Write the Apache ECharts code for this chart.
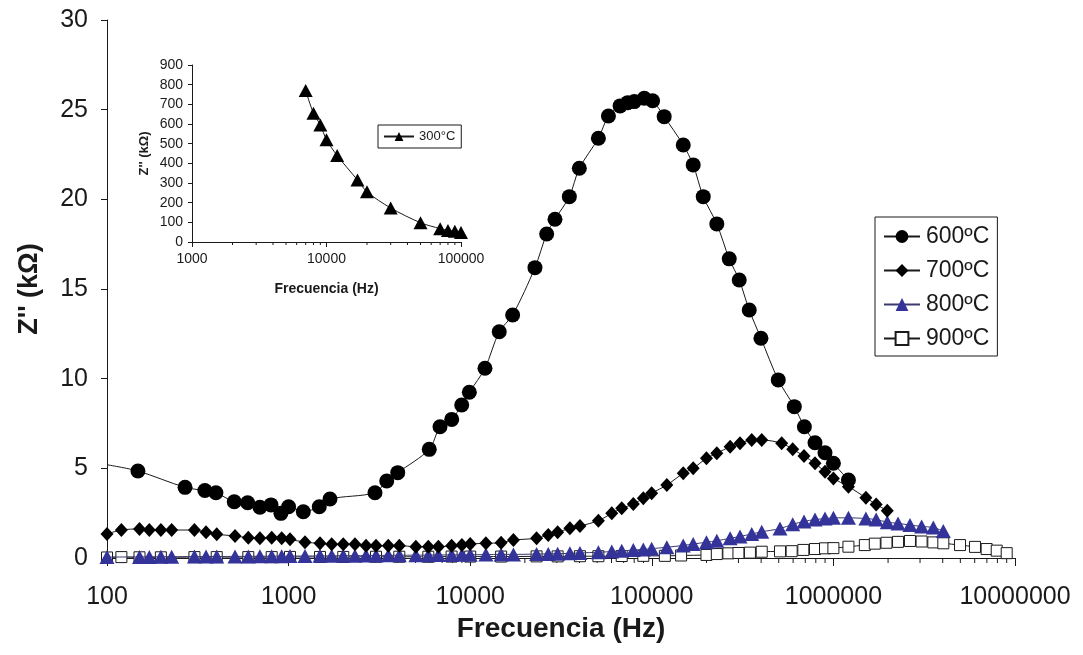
<!DOCTYPE html>
<html>
<head>
<meta charset="utf-8">
<script src="https://cdn.jsdelivr.net/npm/echarts@6/dist/echarts.min.js"></script>
<style>
  html, body { margin: 0; padding: 0; background: #fff; }
  #chart { width: 1083px; height: 655px; }
</style>
</head>
<body>
<div id="chart"></div>
<script>
// Z'' (imaginary impedance, kΩ) versus frequency (Hz) at several temperatures
const f600 = [100,148,269,346,398,502,595,695,800,907,1000,1205,1475,1690,2990,3470,3990,5950,6820,7910,8980,9890,12060,14450,17130,22730,26370,29300,35150,39900,50800,57700,66900,73700,80100,90900,101000,117000,149000,169000,192000,228000,267000,303000,344000,399000,497000,609000,692000,792000,899000,1000000,1210000];
const z600 = [5.2,4.85,3.94,3.76,3.64,3.14,3.08,2.83,2.96,2.49,2.86,2.58,2.86,3.29,3.64,4.29,4.76,6.06,7.32,7.73,8.53,9.24,10.58,12.62,13.55,16.19,18.07,18.89,20.15,21.73,23.41,24.65,25.21,25.39,25.45,25.64,25.5,24.61,23.03,21.92,20.15,18.63,16.68,15.5,13.83,12.25,9.93,8.44,7.32,6.43,5.87,5.28,4.35];

const f700 = [100,120,151,171,198,227,303,351,402,507,600,695,807,916,1018,1231,1489,1727,2000,2320,2670,3030,3540,4070,5020,5880,6680,7900,9000,10000,12200,14800,17300,23200,26900,30300,35400,40200,50800,60200,68300,79100,89800,99800,121000,149000,169000,200000,228000,270000,306000,355000,403000,519000,597000,689000,792000,899000,1000000,1210000,1510000,1720000,1980000];
const z700 = [1.34,1.56,1.62,1.56,1.56,1.56,1.56,1.43,1.32,1.23,1.13,1.10,1.13,1.10,1.04,0.88,0.82,0.76,0.76,0.76,0.69,0.69,0.69,0.69,0.63,0.63,0.63,0.68,0.72,0.78,0.82,0.85,1.0,1.10,1.28,1.43,1.66,1.78,2.08,2.49,2.77,3.01,3.33,3.61,4.07,4.72,5.0,5.56,5.84,6.21,6.40,6.58,6.58,6.40,6.06,5.69,5.28,4.81,4.44,3.98,3.36,2.99,2.64];

const f800 = [100,151,171,198,227,303,351,402,507,600,695,807,916,1018,1231,1489,1727,2000,2320,2670,3030,3540,4070,5020,5880,6680,7900,9000,10000,12200,14800,17300,23200,26900,30300,35400,40200,50800,60200,68300,79100,89800,99800,121000,149000,169000,200000,228000,270000,306000,355000,403000,508000,597000,689000,792000,899000,1000000,1210000,1510000,1720000,1980000,2270000,2640000,3060000,3550000,4030000];
const z800 = [0.05,0.06,0.06,0.07,0.07,0.08,0.08,0.08,0.09,0.09,0.1,0.1,0.1,0.11,0.11,0.12,0.12,0.13,0.13,0.14,0.14,0.15,0.15,0.16,0.16,0.17,0.17,0.18,0.18,0.19,0.2,0.2,0.22,0.23,0.24,0.26,0.28,0.32,0.36,0.4,0.44,0.48,0.52,0.6,0.7,0.78,0.88,0.96,1.1,1.2,1.34,1.46,1.64,1.88,2.04,2.14,2.2,2.24,2.24,2.2,2.14,2.0,1.93,1.84,1.76,1.7,1.5];

const f900 = [100,120,151,198,303,402,600,807,1018,1489,2000,3030,4070,5880,7900,10000,14800,23200,30300,40200,50800,68300,89800,118000,145000,200000,228000,264000,300000,347000,403000,508000,589000,683000,792000,899000,1000000,1210000,1490000,1690000,1960000,2270000,2640000,3060000,3550000,4030000,4980000,6020000,6980000,7930000,9000000];
const z900 = [0.03,0.05,0.04,0.04,0.05,0.05,0.05,0.05,0.06,0.06,0.06,0.07,0.07,0.07,0.08,0.08,0.08,0.09,0.09,0.1,0.1,0.11,0.12,0.12,0.14,0.17,0.22,0.26,0.28,0.3,0.35,0.37,0.38,0.45,0.5,0.54,0.55,0.63,0.72,0.8,0.85,0.9,0.95,0.92,0.87,0.82,0.72,0.62,0.5,0.41,0.27];

// inset: 300 ºC, Z'' in kΩ
const f300 = [7000,8000,9000,10000,12000,17000,20000,30000,50000,70000,80000,90000,100000];
const z300 = [770,655,595,520,440,315,255,173,98,68,59,55,48];

const seriesNames = ['600ºC', '700ºC', '800ºC', '900ºC'];
const insetName = '300°C';

// log-axis minor ticks at 2..9 × each decade
const minorMultipliers = [2,3,4,5,6,7,8,9];
const mainDecades = [100, 1000, 10000, 100000, 1000000];
const insetDecades = [1000, 10000];

const FONT = 'Liberation Sans, Arial, Helvetica, sans-serif';
const INK = '#1a1a1a';
const BLUE = '#333399';

function pairs(xs, ys) { return xs.map((x, i) => [x, ys[i]]); }
function minorTicks(decades) {
  const out = [];
  decades.forEach(d => minorMultipliers.forEach(m => out.push([d * m, 0])));
  return out;
}
function tickRenderer(len) {
  return function (params, api) {
    const p = api.coord([api.value(0), 0]);
    return {
      type: 'line',
      shape: { x1: p[0], y1: p[1], x2: p[0], y2: p[1] + len },
      style: { stroke: INK, lineWidth: 1 }
    };
  };
}
const logLabel = v => String(Math.round(v));

const d600 = pairs(f600, z600);
d600[0] = { value: d600[0], symbol: 'none' };

const chart = echarts.init(document.getElementById('chart'), null, { renderer: 'canvas' });

chart.setOption({
  backgroundColor: '#ffffff',
  animation: false,
  textStyle: { fontFamily: FONT, color: INK },
  grid: [
    { left: 107, top: 20, width: 908, height: 538 },
    { left: 192, top: 65, width: 269, height: 177 }
  ],
  xAxis: [
    {
      type: 'log', gridIndex: 0, min: 100, max: 10000000, logBase: 10, splitNumber: 5,
      axisLine: { lineStyle: { color: INK, width: 1 } },
      axisTick: { show: true, inside: false, length: 8, lineStyle: { color: INK } },
      axisLabel: { fontSize: 25, color: INK, margin: 27, formatter: logLabel, fontFamily: FONT },
      splitLine: { show: false },
      name: 'Frecuencia (Hz)', nameLocation: 'middle', nameGap: 55,
      nameTextStyle: { fontSize: 28, fontWeight: 'bold', color: INK, fontFamily: FONT }
    },
    {
      type: 'log', gridIndex: 1, min: 1000, max: 100000, logBase: 10, splitNumber: 2,
      axisLine: { lineStyle: { color: INK, width: 1 } },
      axisTick: { show: true, inside: false, length: 5, lineStyle: { color: INK } },
      axisLabel: { fontSize: 14, color: INK, margin: 10, formatter: logLabel, fontFamily: FONT },
      splitLine: { show: false },
      name: 'Frecuencia (Hz)', nameLocation: 'middle', nameGap: 40,
      nameTextStyle: { fontSize: 14, fontWeight: 'bold', color: INK, fontFamily: FONT }
    }
  ],
  yAxis: [
    {
      type: 'value', gridIndex: 0, min: 0, max: 30, interval: 5,
      axisLine: { show: true, lineStyle: { color: INK, width: 1 } },
      axisTick: { show: true, inside: false, length: 6, lineStyle: { color: INK } },
      axisLabel: { fontSize: 25, color: INK, margin: 19, fontFamily: FONT },
      splitLine: { show: false },
      name: "Z'' (kΩ)", nameLocation: 'middle', nameGap: 64,
      nameTextStyle: { fontSize: 27, fontWeight: 'bold', color: INK, fontFamily: FONT }
    },
    {
      type: 'value', gridIndex: 1, min: 0, max: 900, interval: 100,
      axisLine: { show: true, lineStyle: { color: INK, width: 1 } },
      axisTick: { show: true, inside: false, length: 4, lineStyle: { color: INK } },
      axisLabel: { fontSize: 14, color: INK, margin: 9, fontFamily: FONT },
      splitLine: { show: false },
      name: "Z'' (kΩ)", nameLocation: 'middle', nameGap: 41,
      nameTextStyle: { fontSize: 13, fontWeight: 'bold', color: INK, fontFamily: FONT }
    }
  ],
  legend: [
    {
      data: seriesNames,
      orient: 'vertical', left: 875, top: 217,
      padding: [8, 8, 6, 8], itemGap: 11, itemWidth: 36, itemHeight: 16,
      borderColor: INK, borderWidth: 1, backgroundColor: '#fff',
      textStyle: { fontSize: 23, color: INK, fontFamily: FONT, lineHeight: 23, padding: [0, 0, 0, 1] }
    },
    {
      data: [insetName],
      orient: 'vertical', left: 378, top: 125,
      padding: [5, 6, 5, 5], itemWidth: 30, itemHeight: 11,
      borderColor: INK, borderWidth: 1, backgroundColor: '#fff',
      textStyle: { fontSize: 13, color: INK, fontFamily: FONT }
    }
  ],
  series: [
    {
      name: seriesNames[3], type: 'line', xAxisIndex: 0, yAxisIndex: 0, z: 2,
      data: pairs(f900, z900), smooth: 0.3,
      symbol: 'rect', symbolSize: 11,
      lineStyle: { color: INK, width: 1 },
      itemStyle: { color: '#ffffff', borderColor: INK, borderWidth: 1 }
    },
    {
      name: seriesNames[2], type: 'line', xAxisIndex: 0, yAxisIndex: 0, z: 3,
      data: pairs(f800, z800), smooth: 0.3,
      symbol: 'triangle', symbolSize: [15, 14],
      lineStyle: { color: '#3a3a6e', width: 1 },
      itemStyle: { color: BLUE, borderWidth: 0 }
    },
    {
      name: seriesNames[1], type: 'line', xAxisIndex: 0, yAxisIndex: 0, z: 4,
      data: pairs(f700, z700), smooth: 0.3,
      symbol: 'diamond', symbolSize: [13, 14],
      lineStyle: { color: INK, width: 1 },
      itemStyle: { color: '#000000', borderWidth: 0 }
    },
    {
      name: seriesNames[0], type: 'line', xAxisIndex: 0, yAxisIndex: 0, z: 5,
      data: d600, smooth: 0.3,
      symbol: 'circle', symbolSize: 15,
      lineStyle: { color: INK, width: 1 },
      itemStyle: { color: '#000000', borderWidth: 0 }
    },
    {
      name: insetName, type: 'line', xAxisIndex: 1, yAxisIndex: 1, z: 5,
      data: pairs(f300, z300), smooth: 0.3,
      symbol: 'triangle', symbolSize: [14, 13],
      lineStyle: { color: INK, width: 1 },
      itemStyle: { color: '#000000', borderWidth: 0 }
    },
    {
      name: 'minorTicksMain', type: 'custom', xAxisIndex: 0, yAxisIndex: 0,
      silent: true, clip: false, z: 1,
      data: minorTicks(mainDecades), renderItem: tickRenderer(5)
    },
    {
      name: 'minorTicksInset', type: 'custom', xAxisIndex: 1, yAxisIndex: 1,
      silent: true, clip: false, z: 1,
      data: minorTicks(insetDecades), renderItem: tickRenderer(3)
    }
  ]
});
</script>
</body>
</html>
